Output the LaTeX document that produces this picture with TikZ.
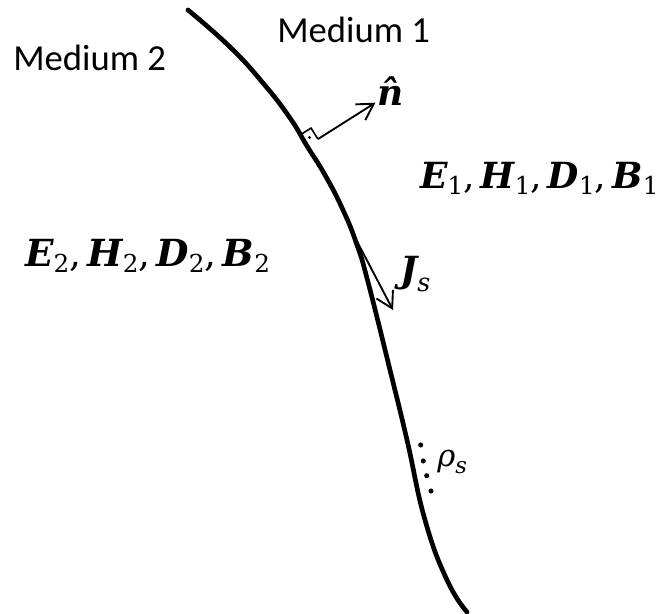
\documentclass[tikz,border=0pt]{standalone}
\usepackage{fontspec}
\setmainfont{Carlito}
\newfontfamily\symf{DejaVu Serif}
\usetikzlibrary{arrows.meta}
\newcommand\fvec[2]{{\symf\bfseries\itshape #1}\raisebox{-0.18em}{\symf\fontsize{18.5}{18.5}\selectfont #2}}
\newcommand\fcm{{\symf,\,}}
\begin{document}
\begin{tikzpicture}[x=0.75pt,y=-0.75pt,
  medlabel/.style={font=\fontsize{27.5}{30}\selectfont, inner sep=0pt, anchor=base west},
  fieldlabel/.style={font=\fontsize{27}{30}\selectfont, inner sep=0pt, anchor=base west},
  boundary/.style={line width=3.5pt, line cap=round},
  vecarrow/.style={line width=1.4pt, -{Straight Barb[length=12pt,width=14pt,line width=1.4pt]}},
  thinline/.style={line width=1.2pt},
  dotmark/.style={circle, fill=black, inner sep=0pt, minimum size=3.8pt}]
\useasboundingbox (0,0) rectangle (664,614);
% boundary curve
\draw[boundary] plot[smooth, tension=0.8] coordinates
  {(188,10) (230,47) (263,83) (290,118) (307,146) (325,175) (343,210) (357,245) (368,282) (390,370) (407,440) (425,520) (447,580) (467,612)};
% normal vector with right-angle mark
\coordinate (P) at (307,146);
\coordinate (A) at (300.06,135.0);
\coordinate (B) at (311.05,128.1);
\coordinate (C) at (318.0,139.06);
\coordinate (ntip) at (375.4,102.7);
\draw[thinline] (A) -- (B) -- (C);
\node[dotmark, minimum size=2.6pt] (sqdot) at (309.5,137.5) {};
\draw[vecarrow] (C) -- (ntip);
\node[fieldlabel] (nhat) at (377,105) {\symf\bfseries\itshape n^^^^0302};
% surface current
\coordinate (Jtail) at (350,228);
\coordinate (Jtip) at (393,310);
\draw[vecarrow] (Jtail) -- (Jtip);
\node[fieldlabel] (Js) at (400,282) {{\symf\bfseries\itshape J}\raisebox{-0.25em}{\symf\itshape\fontsize{19}{19}\selectfont s}};
% surface charge
\node[dotmark] (d1) at (420.7,445) {};
\node[dotmark] (d2) at (423.3,461) {};
\node[dotmark] (d3) at (426.7,475.7) {};
\node[dotmark] (d4) at (431,491) {};
\node[fieldlabel, font=\fontsize{23}{26}\selectfont] (rho) at (437,466) {{\symf\itshape ρ}\raisebox{-0.25em}{\symf\itshape\fontsize{17}{17}\selectfont s}};
% media labels
\node[medlabel] (m1) at (277,42) {Medium 1};
\node[medlabel] (m2) at (13,70) {Medium 2};
% fields
\node[fieldlabel] (f1) at (420,188) {\fvec{E}{1}\fcm\fvec{H}{1}\fcm\fvec{D}{1}\fcm\fvec{B}{1}};
\node[fieldlabel, font=\fontsize{28}{30}\selectfont] (f2) at (25,266) {\fvec{E}{2}\fcm\fvec{H}{2}\fcm\fvec{D}{2}\fcm\fvec{B}{2}};
\end{tikzpicture}
\end{document}
